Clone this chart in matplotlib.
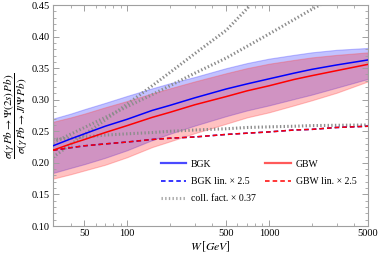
import numpy as np
import matplotlib
matplotlib.use("Agg")
import matplotlib.pyplot as plt
from matplotlib.ticker import FixedLocator, NullFormatter, MultipleLocator, LogLocator
from matplotlib.lines import Line2D

plt.rcParams['font.family'] = ['Liberation Serif', 'DejaVu Serif']
plt.rcParams['mathtext.fontset'] = 'stix'

# ---- data ----
W = [30, 40, 50, 70, 100, 150, 200, 300, 500, 700, 1000, 1500, 2000, 3000, 5000]
bgk    = [0.227, 0.238, 0.246, 0.258, 0.269, 0.283, 0.291, 0.303, 0.317, 0.325, 0.333, 0.342, 0.348, 0.355, 0.363]
bgk_up = [0.270, 0.278, 0.285, 0.295, 0.306, 0.318, 0.326, 0.336, 0.350, 0.358, 0.365, 0.371, 0.375, 0.379, 0.382]
bgk_lo = [0.184, 0.192, 0.198, 0.208, 0.220, 0.236, 0.246, 0.259, 0.274, 0.283, 0.291, 0.301, 0.308, 0.319, 0.333]
gbw    = [0.220, 0.230, 0.237, 0.248, 0.259, 0.272, 0.280, 0.292, 0.305, 0.314, 0.322, 0.332, 0.338, 0.346, 0.356]
gbw_up = [0.265, 0.272, 0.278, 0.288, 0.298, 0.310, 0.318, 0.329, 0.342, 0.350, 0.357, 0.363, 0.367, 0.371, 0.375]
gbw_lo = [0.175, 0.182, 0.188, 0.197, 0.209, 0.225, 0.234, 0.247, 0.262, 0.272, 0.280, 0.291, 0.299, 0.311, 0.329]
bgk_lin = [0.220, 0.224, 0.227, 0.230, 0.233, 0.237, 0.239, 0.241, 0.245, 0.247, 0.249, 0.252, 0.253, 0.256, 0.258]
gbw_lin = [0.220, 0.224, 0.227, 0.230, 0.233, 0.237, 0.239, 0.241, 0.245, 0.247, 0.249, 0.252, 0.253, 0.256, 0.258]
coll_flat = [0.237, 0.239, 0.241, 0.244, 0.246, 0.248, 0.250, 0.252, 0.254, 0.256, 0.257, 0.258, 0.259, 0.2595, 0.260]
W_steep1 = [30, 50, 70, 100, 150, 200, 300, 500, 700, 1000]
coll_steep1 = [0.209, 0.245, 0.268, 0.293, 0.322, 0.343, 0.373, 0.410, 0.444, 0.484]
W_steep2 = [30, 50, 70, 100, 150, 200, 300, 500, 1000, 2000, 5000]
coll_steep2 = [0.232, 0.256, 0.272, 0.289, 0.308, 0.322, 0.342, 0.366, 0.404, 0.443, 0.490]

xticks = [50, 100, 500, 1000, 5000]
xticklabels = ['50', '100', '500', '1000', '5000']
yticks = [0.10, 0.15, 0.20, 0.25, 0.30, 0.35, 0.40, 0.45]

fig = plt.figure(figsize=(3.8, 2.59), dpi=100)
ax = fig.add_axes([53/380, 1-226/259, 315/380, 221/259])

blue = '#0000ff'
red = '#ff0000'
gray = '#8c8c8c'

ax.fill_between(W, bgk_lo, bgk_up, facecolor=(0, 0, 1, 0.24), edgecolor=(0.3, 0.3, 1, 0.35), lw=0.8, zorder=1)
ax.fill_between(W, gbw_lo, gbw_up, facecolor=(1, 0, 0, 0.24), edgecolor=(1, 0.3, 0.3, 0.35), lw=0.8, zorder=1)

dot = (0, (0.45, 0.75))
ax.plot(W, coll_flat, color=gray, lw=2.2, ls=dot, zorder=2)
ax.plot(W_steep1, coll_steep1, color=gray, lw=2.2, ls=dot, zorder=2)
ax.plot(W_steep2, coll_steep2, color=gray, lw=2.2, ls=dot, zorder=2)

ax.plot(W, bgk, color=blue, lw=1.1, zorder=3)
l2, = ax.plot(W, bgk_lin, color=blue, lw=1.1, ls=(0, (3, 2)), zorder=3)
ax.plot(W, gbw, color=red, lw=1.1, zorder=4)
l5, = ax.plot(W, gbw_lin, color=red, lw=1.1, ls=(0, (3, 2)), zorder=4)
l3 = Line2D([], [], color='#a8a8a8', lw=2.2, ls=dot)
l4h = Line2D([], [], color='#ff5a5a', lw=1.6)
l1h = Line2D([], [], color='#4a4aff', lw=1.6)

ax.set_xscale('log')
ax.set_xlim(30, 5000)
ax.set_ylim(0.10, 0.45)
ax.xaxis.set_major_locator(FixedLocator(xticks))
ax.set_xticklabels(xticklabels)
ax.xaxis.set_minor_locator(LogLocator(base=10, subs=np.arange(1, 10)))
ax.xaxis.set_minor_formatter(NullFormatter())
ax.set_yticks(yticks)
ax.set_yticklabels([f'{v:.2f}' for v in yticks])
ax.yaxis.set_minor_locator(MultipleLocator(0.01))

framec = '#a0a0a0'
for s in ax.spines.values():
    s.set_color(framec)
    s.set_linewidth(0.8)
ax.tick_params(which='both', direction='in', top=True, right=True, color=framec, labelsize=7.5, pad=2.5)
ax.tick_params(which='major', length=4, width=0.7)
ax.tick_params(which='minor', length=2, width=0.6)

ax.set_xlabel(r'$W\,[GeV]$', fontsize=8.5, labelpad=1)
ax.set_ylabel(r'$\dfrac{\sigma(\gamma\, Pb\to\Psi(2s)\,Pb)}{\sigma(\gamma\, Pb\to J/\Psi\, Pb)}$', fontsize=8, labelpad=1)

leg = ax.legend([l1h, l2, l3, l4h, l5],
                ['BGK', 'BGK lin. × 2.5', 'coll. fact. × 0.37', 'GBW', 'GBW lin. × 2.5'],
                ncol=2, loc='upper left', bbox_to_anchor=(0.342, 0.30), frameon=False,
                fontsize=7, handlelength=2.6, handletextpad=0.5, columnspacing=1.0,
                labelspacing=0.85, borderpad=0, borderaxespad=0)

fig.savefig('out.png', dpi=100)
